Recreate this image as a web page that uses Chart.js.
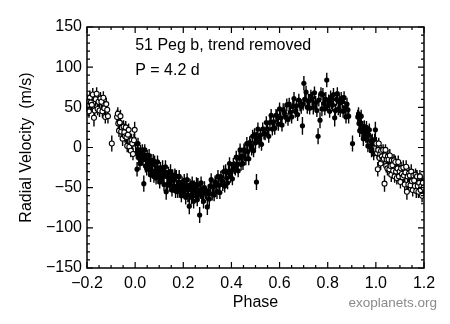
<!DOCTYPE html>
<html>
<head>
<meta charset="utf-8">
<script src="https://cdn.jsdelivr.net/npm/chart.js@4.4.0/dist/chart.umd.min.js"></script>
<style>
  html, body { margin: 0; padding: 0; background: #fff; }
  #wrap { width: 450px; height: 324px; }
</style>
</head>
<body>
<div id="wrap"><canvas id="rv" width="450" height="324"></canvas></div>
<script>
// ── data ───────────────────────────────────────────────────────────────────
const phase = [
  0.002,0.005,0.008,0.010,0.012,0.015,0.018,0.020,0.022,0.025,
  0.028,0.030,0.033,0.036,0.038,0.040,0.043,0.045,0.048,0.050,
  0.053,0.056,0.058,0.061,0.064,0.066,0.069,0.072,0.075,0.078,
  0.081,0.084,0.087,0.090,0.093,0.096,0.099,0.102,0.105,0.108,
  0.111,0.114,0.117,0.120,0.123,0.126,0.129,0.132,0.135,0.138,
  0.141,0.144,0.147,0.150,0.153,0.156,0.159,0.162,0.165,0.168,
  0.171,0.174,0.177,0.180,0.183,0.186,0.189,0.192,0.195,0.198,
  0.201,0.204,0.207,0.210,0.213,0.216,0.219,0.222,0.225,0.228,
  0.231,0.234,0.237,0.240,0.243,0.246,0.249,0.252,0.255,0.258,
  0.261,0.264,0.268,0.271,0.274,0.277,0.280,0.284,0.288,0.292,
  0.296,0.300,0.304,0.308,0.312,0.316,0.320,0.324,0.328,0.332,
  0.336,0.340,0.344,0.348,0.352,0.356,0.360,0.364,0.368,0.372,
  0.376,0.380,0.384,0.388,0.392,0.396,0.400,0.404,0.408,0.412,
  0.416,0.420,0.424,0.428,0.432,0.436,0.440,0.444,0.448,0.452,
  0.456,0.460,0.464,0.468,0.472,0.476,0.480,0.484,0.488,0.492,
  0.496,0.500,0.504,0.505,0.510,0.515,0.520,0.525,0.530,0.535,
  0.540,0.545,0.550,0.555,0.560,0.565,0.570,0.575,0.580,0.585,
  0.590,0.595,0.600,0.605,0.610,0.615,0.620,0.625,0.630,0.635,
  0.640,0.645,0.650,0.655,0.660,0.665,0.670,0.675,0.680,0.685,
  0.690,0.695,0.698,0.701,0.705,0.710,0.715,0.720,0.725,0.730,
  0.735,0.740,0.745,0.750,0.755,0.760,0.763,0.768,0.772,0.776,
  0.780,0.784,0.788,0.792,0.796,0.800,0.804,0.808,0.812,0.816,
  0.820,0.824,0.829,0.832,0.836,0.840,0.844,0.848,0.852,0.856,
  0.860,0.864,0.868,0.872,0.876,0.880,0.884,0.887,0.903,0.925,
  0.928,0.930,0.933,0.936,0.939,0.942,0.945,0.948,0.952,0.955,
  0.958,0.961,0.964,0.967,0.970,0.973,0.976,0.979,0.982,0.985,
  0.988,0.991,0.995,0.998
];
const velocity = [
  5,-7,-27,-3,5,-13,-8,-20,-4,-11,
  -15,-3,-14,-45,-10,-3,-23,-15,-26,-11,
  -15,-27,-10,-23,-34,-16,-22,-29,-16,-36,
  -18,-30,-38,-26,-18,-36,-30,-43,-26,-33,
  -37,-25,-35,-46,-31,-24,-55,-36,-46,-32,
  -35,-47,-30,-42,-53,-35,-41,-48,-34,-54,
  -36,-48,-55,-44,-36,-53,-48,-60,-44,-50,
  -54,-41,-52,-62,-48,-40,-59,-52,-73,-47,
  -51,-62,-44,-57,-67,-49,-54,-60,-46,-65,
  -47,-58,-84,-53,-44,-61,-55,-67,-50,-56,
  -58,-74,-54,-64,-48,-40,-58,-49,-59,-43,
  -45,-55,-36,-47,-56,-37,-41,-46,-30,-48,
  -29,-38,-44,-31,-20,-36,-29,-39,-21,-25,
  -27,-12,-21,-29,-13,-3,-21,-11,-20,-3,
  -5,-14,5,-5,-14,6,3,-2,14,-4,
  16,6,-43,12,23,7,15,4,23,18,
  17,31,23,14,31,40,23,32,24,40,
  39,29,48,37,28,47,43,38,53,35,
  54,44,38,51,61,45,52,41,59,53,
  51,27,54,80,60,69,50,58,49,64,
  61,50,68,56,46,14,59,34,67,48,
  66,55,48,60,84,52,58,45,62,56,
  53,66,37,46,60,67,48,57,46,61,
  57,45,62,49,38,54,47,39,5,38,
  42,30,21,31,39,20,25,11,26,19,
  14,25,13,2,16,22,1,8,-4,9,
  5,-8,9,22
];
const velocityErr = [
  8,7,9,8,7,8,8,8,7,8,
  8,7,8,10,8,7,8,8,9,8,
  8,9,8,8,9,8,8,9,8,8,
  8,9,8,8,8,9,8,8,8,9,
  8,9,8,8,8,8,10,8,9,8,
  8,8,9,8,8,8,9,8,8,9,
  8,8,8,9,8,9,8,8,8,9,
  8,8,8,9,8,8,9,8,10,8,
  8,9,8,8,9,8,8,8,9,8,
  9,8,10,8,8,9,8,9,8,8,
  8,10,8,9,8,8,8,9,8,8,
  8,9,8,8,8,8,8,8,8,8,
  8,8,8,8,8,8,8,8,8,8,
  8,8,8,8,8,8,8,8,8,8,
  8,8,8,8,8,8,8,8,8,8,
  8,8,10,8,8,8,8,8,8,8,
  8,8,8,8,8,8,8,8,8,8,
  8,8,8,8,8,8,8,8,8,8,
  8,8,8,8,8,8,8,8,8,8,
  9,11,8,9,8,8,8,9,8,8,
  8,9,8,8,8,10,8,10,8,9,
  8,8,8,9,9,8,8,8,9,8,
  8,8,11,8,8,8,8,9,8,8,
  8,8,8,9,8,8,8,9,10,9,
  8,8,8,9,8,8,8,9,8,8,
  8,8,8,8,8,8,8,8,8,8,
  8,8,8,10
];

const xTicks = [-0.2, 0.0, 0.2, 0.4, 0.6, 0.8, 1.0, 1.2];
const yTicks = [-150, -100, -50, 0, 50, 100, 150];
const notes = ['51 Peg b, trend removed', 'P = 4.2 d'];
const credit = 'exoplanets.org';

const FONT = "'Liberation Sans', Arial, Helvetica, sans-serif";
const INK = '#000';

// filled points: one orbit; open points: the wrap-around copies
const orbit = phase.map((p, i) => ({ x: p, y: velocity[i], e: velocityErr[i] }));
const wrapped = [
  ...orbit.filter(d => d.x >= 0.8).map(d => ({ x: d.x - 1, y: d.y, e: d.e })),
  ...orbit.filter(d => d.x <= 0.2).map(d => ({ x: d.x + 1, y: d.y, e: d.e })),
];

const minus = v => String(v).replace('-', '\u2212');

// ── error bars, drawn under the markers ────────────────────────────────────
const errorBars = {
  id: 'errorBars',
  beforeDatasetsDraw(chart) {
    const { ctx, scales: { x, y } } = chart;
    ctx.save();
    ctx.strokeStyle = INK;
    ctx.lineWidth = 1.4;
    ctx.beginPath();
    chart.data.datasets.forEach(ds => {
      ds.data.forEach(d => {
        const px = x.getPixelForValue(d.x);
        ctx.moveTo(px, y.getPixelForValue(d.y + d.e));
        ctx.lineTo(px, y.getPixelForValue(d.y - d.e));
      });
    });
    ctx.stroke();
    ctx.restore();
  },
};

// ── box frame with inward major/minor ticks, labels ───────────────────────
const frame = {
  id: 'frame',
  afterDraw(chart) {
    const { ctx, chartArea: a, scales: { x, y } } = chart;
    ctx.save();
    ctx.strokeStyle = INK;
    ctx.lineWidth = 1.5;
    ctx.strokeRect(a.left, a.top, a.right - a.left, a.bottom - a.top);

    ctx.lineWidth = 1.2;
    ctx.beginPath();
    for (let k = -4; k <= 24; k++) {
      const v = k * 0.05;
      const len = k % 4 === 0 ? 6 : 3;
      const px = x.getPixelForValue(v);
      ctx.moveTo(px, a.bottom); ctx.lineTo(px, a.bottom - len);
      ctx.moveTo(px, a.top);    ctx.lineTo(px, a.top + len);
    }
    for (let v = -150; v <= 150; v += 10) {
      const len = v % 50 === 0 ? 6 : 3;
      const py = y.getPixelForValue(v);
      ctx.moveTo(a.left, py);  ctx.lineTo(a.left + len, py);
      ctx.moveTo(a.right, py); ctx.lineTo(a.right - len, py);
    }
    ctx.stroke();

    ctx.fillStyle = INK;
    ctx.font = `16px ${FONT}`;
    ctx.textBaseline = 'middle';
    ctx.fillText(notes[0], x.getPixelForValue(0.0), y.getPixelForValue(127));
    ctx.fillText(notes[1], x.getPixelForValue(0.0), y.getPixelForValue(96));

    ctx.fillStyle = '#8a8a8a';
    ctx.font = `13.5px ${FONT}`;
    ctx.textAlign = 'right';
    ctx.fillText(credit, 437, 303);
    ctx.restore();
  },
};

new Chart(document.getElementById('rv'), {
  type: 'scatter',
  data: {
    datasets: [
      {
        data: wrapped,
        pointRadius: 2.5,
        pointBackgroundColor: '#fff',
        pointBorderColor: INK,
        pointBorderWidth: 1.1,
      },
      {
        data: orbit,
        pointRadius: 2.6,
        pointBackgroundColor: INK,
        pointBorderColor: INK,
        pointBorderWidth: 0,
      },
    ],
  },
  options: {
    responsive: false,
    animation: false,
    devicePixelRatio: 1,
    layout: { padding: { top: 27, right: 26, left: 0, bottom: 0 } },
    plugins: { legend: { display: false }, tooltip: { enabled: false } },
    scales: {
      x: {
        type: 'linear',
        min: -0.2, max: 1.2,
        afterBuildTicks: s => { s.ticks = xTicks.map(v => ({ value: v })); },
        afterFit: s => { s.height = 56; },
        grid: { display: false, drawTicks: false },
        border: { display: false },
        ticks: {
          color: INK, padding: 6,
          font: { family: FONT, size: 16 },
          callback: v => minus(v.toFixed(1)),
          maxRotation: 0,
        },
        title: {
          display: true, text: 'Phase', color: INK,
          font: { family: FONT, size: 16 },
          padding: { top: 0, bottom: 12 },
        },
      },
      y: {
        type: 'linear',
        min: -150, max: 150,
        afterBuildTicks: s => { s.ticks = yTicks.map(v => ({ value: v })); },
        afterFit: s => { s.width = 87; },
        grid: { display: false, drawTicks: false },
        border: { display: false },
        ticks: {
          color: INK, padding: 5,
          font: { family: FONT, size: 16 },
          callback: v => minus(v),
        },
        title: {
          display: true, text: 'Radial Velocity  (m/s)', color: INK,
          font: { family: FONT, size: 16 },
          padding: { top: 17, bottom: 0 },
        },
      },
    },
  },
  plugins: [errorBars, frame],
});
</script>
</body>
</html>
